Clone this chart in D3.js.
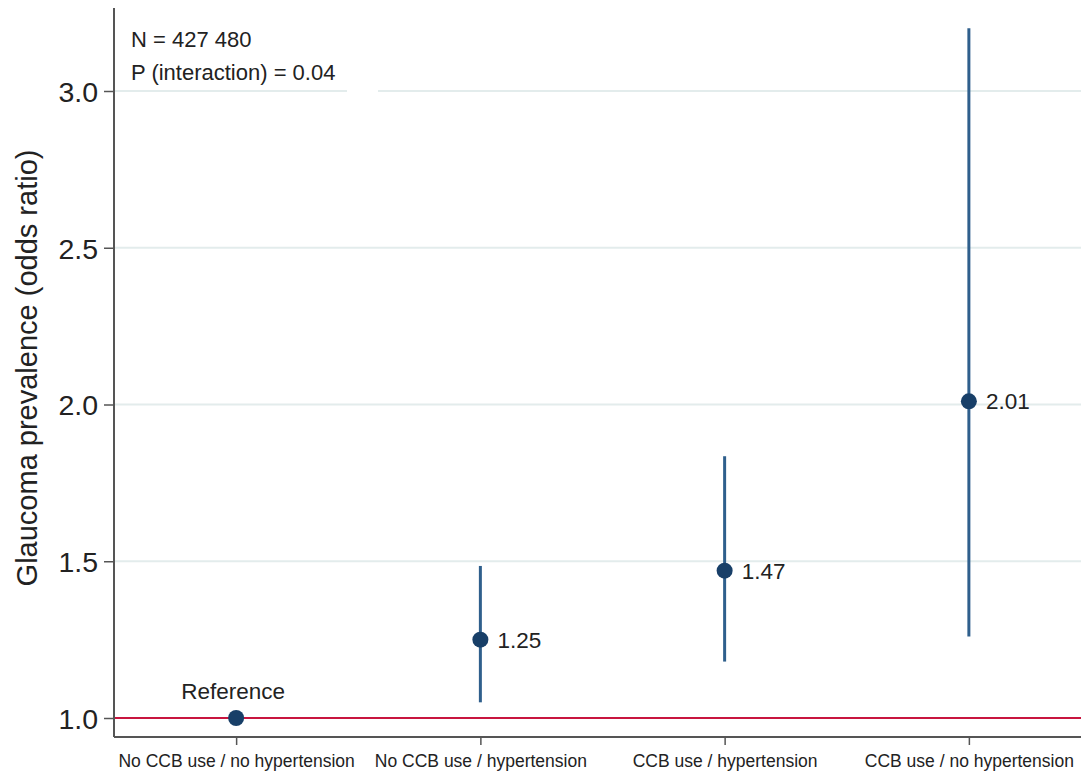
<!DOCTYPE html>
<html>
<head>
<meta charset="utf-8">
<script src="https://cdn.jsdelivr.net/npm/d3@7"></script>
<style>
body { margin: 0; background: #fff; }
text { font-family: "Liberation Sans", Arial, sans-serif; fill: #222; }
</style>
</head>
<body>
<div id="chart"></div>
<script>
var categories = ["No CCB use / no hypertension", "No CCB use / hypertension", "CCB use / hypertension", "CCB use / no hypertension"];
var estimates = [1.00, 1.25, 1.47, 2.01];
var lower = [null, 1.05, 1.18, 1.26];
var upper = [null, 1.485, 1.835, 3.20];
var pointLabels = ["Reference", "1.25", "1.47", "2.01"];
var yTicks = [1.0, 1.5, 2.0, 2.5, 3.0];
var notes = ["N = 427 480", "P (interaction) = 0.04"];

var w = 1081, h = 776;
var mLeft = 114, mRight = 1091, mTop = 8, mBottom = 737;

var svg = d3.select('#chart').append('svg')
	.attr('width', w)
	.attr('height', h);

var x = d3.scalePoint().domain(categories).range([mLeft, mRight]).padding(0.5);
var y = d3.scaleLinear().domain([1.0, 3.0]).range([718, 91]);

// gridlines
svg.append('g').selectAll('line')
	.data(yTicks.filter(function(d){ return d > 1; }))
	.enter().append('line')
	.attr('x1', mLeft).attr('x2', w)
	.attr('y1', function(d){ return y(d); })
	.attr('y2', function(d){ return y(d); })
	.style('stroke', '#e3ecec')
	.style('stroke-width', 2);

// small gap in the top gridline (as in the original)
svg.append('rect')
	.attr('x', 347).attr('y', y(3) - 5)
	.attr('width', 31).attr('height', 10)
	.style('fill', '#fff');

svg.selectAll('.note')
	.data(notes)
	.enter().append('text')
	.attr('class', 'note')
	.attr('x', 131)
	.attr('y', function(d, i){ return 47 + i*33; })
	.style('font-size', '22px')
	.text(function(d){ return d; });

// reference line
svg.append('line')
	.attr('x1', mLeft).attr('x2', w)
	.attr('y1', y(1)).attr('y2', y(1))
	.style('stroke', '#c8153f')
	.style('stroke-width', 2);

// y axis
var yAxis = svg.append('g')
	.attr('transform', 'translate(' + mLeft + ',0)')
	.call(d3.axisLeft(y).tickValues(yTicks).tickFormat(d3.format('.1f')).tickSize(10).tickPadding(6));
yAxis.select('.domain').attr('d', 'M0,' + mTop + 'V' + mBottom).style('stroke', '#555').style('stroke-width', 2);
yAxis.selectAll('.tick line').style('stroke', '#555').style('stroke-width', 1.5);
yAxis.selectAll('.tick text').style('font-size', '28.5px').style('fill', '#222').attr('dy', '0.36em');

// x axis
var xAxis = svg.append('g')
	.attr('transform', 'translate(0,' + mBottom + ')')
	.call(d3.axisBottom(x).tickSize(8).tickPadding(10));
xAxis.select('.domain').attr('d', 'M' + mLeft + ',0H' + w).style('stroke', '#555').style('stroke-width', 2);
xAxis.selectAll('.tick line').style('stroke', '#555').style('stroke-width', 1.5);
xAxis.selectAll('.tick text').style('font-size', '17.5px').style('fill', '#222');

// y label
svg.append('text')
	.attr('transform', 'translate(37,368) rotate(-90)')
	.attr('text-anchor', 'middle')
	.style('font-size', '29px')
	.text('Glaucoma prevalence (odds ratio)');

// error bars
var rows = categories.map(function(c, i){
	return {cat: c, est: estimates[i], lo: lower[i], hi: upper[i], label: pointLabels[i]};
});

svg.selectAll('.ci')
	.data(rows.filter(function(d){ return d.lo != null; }))
	.enter().append('line')
	.attr('class', 'ci')
	.attr('x1', function(d){ return x(d.cat); })
	.attr('x2', function(d){ return x(d.cat); })
	.attr('y1', function(d){ return y(d.lo); })
	.attr('y2', function(d){ return y(d.hi); })
	.style('stroke', '#2f5f8c')
	.style('stroke-width', 3);

svg.selectAll('.pt')
	.data(rows)
	.enter().append('circle')
	.attr('class', 'pt')
	.attr('cx', function(d){ return x(d.cat); })
	.attr('cy', function(d){ return y(d.est); })
	.attr('r', 8)
	.style('fill', '#183f68');

svg.selectAll('.lbl')
	.data(rows)
	.enter().append('text')
	.attr('class', 'lbl')
	.attr('x', function(d, i){ return i === 0 ? x(d.cat) - 3 : x(d.cat) + 17; })
	.attr('y', function(d, i){ return i === 0 ? y(d.est) - 19 : y(d.est) + 8; })
	.attr('text-anchor', function(d, i){ return i === 0 ? 'middle' : 'start'; })
	.style('font-size', '22.5px')
	.text(function(d){ return d.label; });
</script>
</body>
</html>
